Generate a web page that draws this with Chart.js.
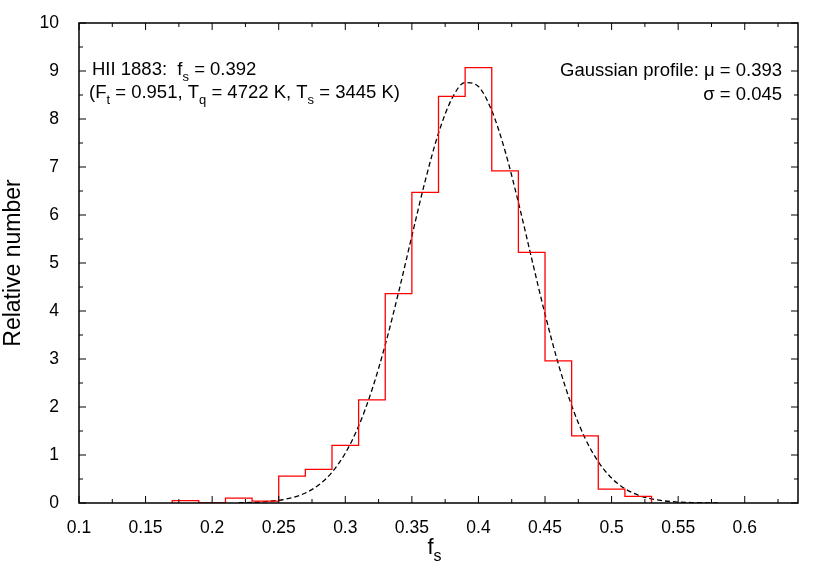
<!DOCTYPE html>
<html>
<head>
<meta charset="utf-8">
<script src="https://cdn.jsdelivr.net/npm/chart.js@4.4.0/dist/chart.umd.min.js"></script>
<style>
  html, body { margin: 0; padding: 0; background: #fff; }
  #wrap { width: 830px; height: 581px; }
</style>
</head>
<body>
<div id="wrap"><canvas id="c" width="830" height="581"></canvas></div>
<script>
// histogram: bin edges (width 0.02) and relative number per bin
const binEdges = [0.17, 0.19, 0.21, 0.23, 0.25, 0.27, 0.29, 0.31, 0.33, 0.35,
                  0.37, 0.39, 0.41, 0.43, 0.45, 0.47, 0.49, 0.51, 0.53];
const binValues = [0.05, 0.0, 0.10, 0.04, 0.56, 0.70, 1.20, 2.15, 4.36, 6.47,
                   8.47, 9.07, 6.92, 5.22, 2.96, 1.40, 0.29, 0.14];

// gaussian profile
const curveX = [0.22, 0.23, 0.24, 0.25, 0.26, 0.27, 0.28, 0.29, 0.30, 0.31,
                0.32, 0.33, 0.34, 0.35, 0.36, 0.37, 0.38, 0.39, 0.40, 0.41,
                0.42, 0.43, 0.44, 0.45, 0.46, 0.47, 0.48, 0.49, 0.50, 0.51,
                0.52, 0.53, 0.54, 0.55, 0.56, 0.57, 0.58];
const curveY = [0.005, 0.012, 0.027, 0.056, 0.111, 0.209, 0.375, 0.639, 1.037, 1.602,
                2.355, 3.295, 4.388, 5.562, 6.710, 7.705, 8.421, 8.760, 8.675, 8.175,
                7.334, 6.262, 5.089, 3.936, 2.898, 2.031, 1.355, 0.860, 0.520, 0.299,
                0.164, 0.085, 0.042, 0.020, 0.009, 0.004, 0.001];

const xTicks = [0.1, 0.15, 0.2, 0.25, 0.3, 0.35, 0.4, 0.45, 0.5, 0.55, 0.6];
const xTickLabels = ['0.1', '0.15', '0.2', '0.25', '0.3', '0.35', '0.4', '0.45', '0.5', '0.55', '0.6'];
const yTicks = [0, 1, 2, 3, 4, 5, 6, 7, 8, 9, 10];
const yTickLabels = ['0', '1', '2', '3', '4', '5', '6', '7', '8', '9', '10'];

const FONT = '"Liberation Sans", Arial, Helvetica, sans-serif';
Chart.defaults.font.family = FONT;
Chart.defaults.color = '#000';

// step outline: start at baseline, one point per bin, back to baseline
const histPoints = [{ x: binEdges[0], y: 0 }];
binValues.forEach((v, i) => histPoints.push({ x: binEdges[i], y: v }));
histPoints.push({ x: binEdges[binEdges.length - 1], y: 0 });

const curvePoints = curveX.map((x, i) => ({ x: x, y: curveY[i] }));

// text with subscripts: parts = [[text, isSub], ...]
function drawRich(ctx, parts, x, y, align, size) {
    const subSize = Math.round(size * 0.72);
    let total = 0;
    parts.forEach(p => {
        ctx.font = (p[1] ? subSize : size) + 'px ' + FONT;
        total += ctx.measureText(p[0]).width;
    });
    let cx = align === 'right' ? x - total : align === 'center' ? x - total / 2 : x;
    parts.forEach(p => {
        ctx.font = (p[1] ? subSize : size) + 'px ' + FONT;
        ctx.fillText(p[0], cx, p[1] ? y + size * 0.3 : y);
        cx += ctx.measureText(p[0]).width;
    });
}

const framePlugin = {
    id: 'frame',
    afterDatasetsDraw(chart) {
        const ctx = chart.ctx;
        const a = chart.chartArea;
        const xs = chart.scales.x, ys = chart.scales.y;
        ctx.save();
        ctx.strokeStyle = '#000';
        ctx.lineWidth = 1;
        ctx.beginPath();
        const tick = (px, major, horiz) => {
            const len = major ? 7 : 4;
            if (horiz) {
                ctx.moveTo(px, a.bottom); ctx.lineTo(px, a.bottom - len);
                ctx.moveTo(px, a.top); ctx.lineTo(px, a.top + len);
            } else {
                ctx.moveTo(a.left, px); ctx.lineTo(a.left + len, px);
                ctx.moveTo(a.right, px); ctx.lineTo(a.right - len, px);
            }
        };
        xTicks.forEach((v, i) => {
            tick(xs.getPixelForValue(v), true, true);
            const m = v + 0.025;
            if (m < xs.max) tick(xs.getPixelForValue(m), false, true);
        });
        yTicks.forEach(v => {
            tick(ys.getPixelForValue(v), true, false);
            if (v + 0.5 < ys.max) tick(ys.getPixelForValue(v + 0.5), false, false);
        });
        ctx.stroke();
        ctx.lineWidth = 1.5;
        ctx.strokeRect(a.left, a.top, a.right - a.left, a.bottom - a.top);

        ctx.fillStyle = '#000';
        ctx.textBaseline = 'alphabetic';
        drawRich(ctx, [['HII 1883:  f', false], ['s', true], [' = 0.392', false]], a.left + 13, 75, 'left', 18.5);
        drawRich(ctx, [['(F', false], ['t', true], [' = 0.951, T', false], ['q', true],
                       [' = 4722 K, T', false], ['s', true], [' = 3445 K)', false]], a.left + 10, 98, 'left', 18.5);
        drawRich(ctx, [['Gaussian profile: \u03bc = 0.393', false]], a.right - 16, 76, 'right', 18.5);
        drawRich(ctx, [['\u03c3 = 0.045', false]], a.right - 16, 100, 'right', 18.5);
        drawRich(ctx, [['f', false], ['s', true]], (a.left + a.right) / 2 - 4, 554, 'center', 22);
        ctx.restore();
    }
};

new Chart(document.getElementById('c'), {
    type: 'scatter',
    data: {
        datasets: [
            {
                label: 'histogram',
                data: histPoints,
                showLine: true,
                stepped: 'before',
                borderColor: '#ff0000',
                borderWidth: 1.3,
                pointRadius: 0
            },
            {
                label: 'gaussian',
                data: curvePoints,
                showLine: true,
                cubicInterpolationMode: 'monotone',
                borderColor: '#000',
                borderWidth: 1.3,
                borderDash: [5, 3],
                pointRadius: 0
            }
        ]
    },
    options: {
        responsive: false,
        animation: false,
        layout: { padding: { top: 23, right: 32, left: 0, bottom: 0 } },
        plugins: { legend: { display: false }, tooltip: { enabled: false } },
        scales: {
            x: {
                type: 'linear',
                min: 0.1,
                max: 0.64,
                grid: { display: false },
                border: { display: false },
                afterBuildTicks: s => { s.ticks = xTicks.map(v => ({ value: v })); },
                afterFit: s => { s.height = 78; },
                ticks: {
                    padding: 7,
                    font: { size: 17.5 },
                    color: '#000',
                    callback: (v, i) => xTickLabels[i]
                }
            },
            y: {
                min: 0,
                max: 10,
                grid: { display: false },
                border: { display: false },
                afterBuildTicks: s => { s.ticks = yTicks.map(v => ({ value: v })); },
                afterFit: s => { s.width = 79; },
                title: {
                    display: true,
                    text: 'Relative number',
                    font: { size: 23 },
                    color: '#000',
                    padding: 0
                },
                ticks: {
                    padding: 12,
                    font: { size: 17.5 },
                    color: '#000',
                    callback: (v, i) => yTickLabels[i]
                }
            }
        }
    },
    plugins: [framePlugin]
});
</script>
</body>
</html>
